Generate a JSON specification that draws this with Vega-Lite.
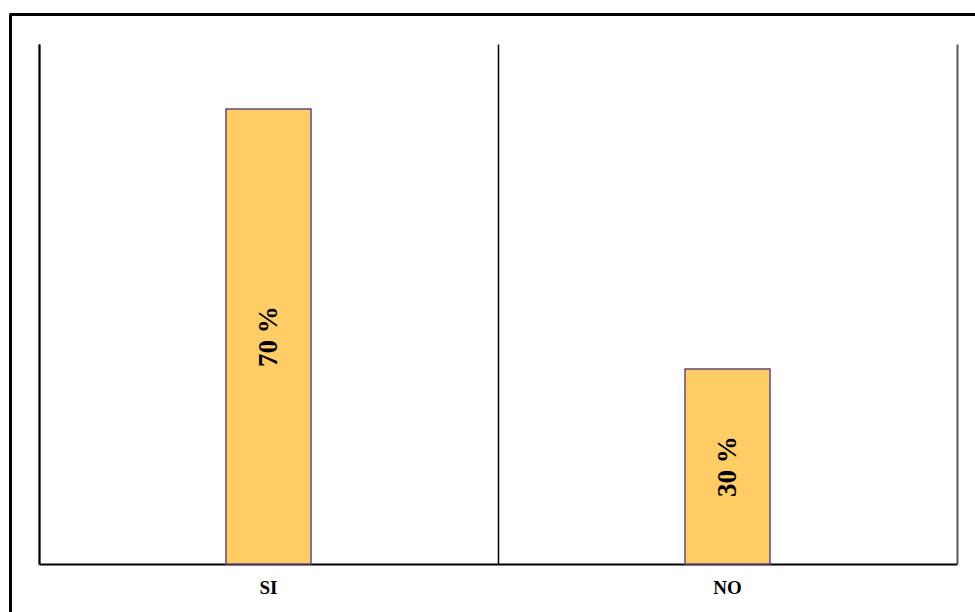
{
  "$schema": "https://vega.github.io/schema/vega-lite/v6.json",
  "width": 918,
  "height": 520,
  "autosize": {"type": "none"},
  "padding": {"left": 39, "top": 44, "right": 18, "bottom": 48},
  "background": "white",
  "config": {"view": {"stroke": null}},
  "data": {
    "values": [
      {"respuesta": "SI", "porcentaje": 70, "etiqueta": "70 %"},
      {"respuesta": "NO", "porcentaje": 30, "etiqueta": "30 %"}
    ]
  },
  "layer": [
    {
      "mark": {"type": "bar", "size": 85, "fill": "#FFCC66", "stroke": "#5F497A", "strokeWidth": 1.5},
      "encoding": {
        "x": {
          "field": "respuesta", "type": "nominal", "sort": null,
          "scale": {"type": "band", "paddingInner": 0, "paddingOuter": 0},
          "axis": {
            "orient": "bottom", "title": null, "labelAngle": 0,
            "domain": true, "domainColor": "#000000", "domainWidth": 2,
            "ticks": false, "grid": false,
            "labelFont": "Liberation Serif", "labelFontWeight": "bold",
            "labelFontSize": 19, "labelColor": "#000000", "labelPadding": 14
          }
        },
        "y": {
          "field": "porcentaje", "type": "quantitative",
          "scale": {"domain": [0, 80], "nice": false},
          "axis": {
            "orient": "left", "title": null, "labels": false, "ticks": false,
            "grid": false, "domain": true, "domainColor": "#000000", "domainWidth": 2
          }
        }
      }
    },
    {
      "transform": [{"calculate": "datum.porcentaje / 2", "as": "centro"}],
      "mark": {
        "type": "text", "angle": 270, "align": "center", "baseline": "middle",
        "font": "Liberation Serif", "fontWeight": "bold", "fontSize": 27, "color": "#000000"
      },
      "encoding": {
        "x": {
          "field": "respuesta", "type": "nominal", "sort": null,
          "scale": {"type": "band", "paddingInner": 0, "paddingOuter": 0},
          "axis": {
            "orient": "top", "title": null, "labels": false, "ticks": false,
            "domain": false, "grid": true, "gridColor": "#000000", "gridWidth": 1.5,
            "bandPosition": 0
          }
        },
        "y": {
          "field": "centro", "type": "quantitative",
          "scale": {"domain": [0, 80], "nice": false},
          "axis": {
            "orient": "right", "title": null, "labels": false, "ticks": false,
            "grid": false, "domain": true, "domainColor": "#595959", "domainWidth": 2
          }
        },
        "text": {"field": "etiqueta"}
      }
    },
    {
      "mark": {"type": "point", "opacity": 0},
      "encoding": {
        "x": {
          "field": "respuesta", "type": "nominal", "sort": null,
          "scale": {"range": [-30, 945]},
          "axis": {
            "orient": "top", "offset": 30, "title": null, "labels": false, "ticks": false,
            "grid": false, "domain": true, "domainColor": "#000000", "domainWidth": 3
          }
        },
        "y": {
          "field": "porcentaje", "type": "quantitative",
          "scale": {"domain": [0, 80], "nice": false, "range": [575, -30]},
          "axis": {
            "orient": "left", "offset": 29, "title": null, "labels": false, "ticks": false,
            "grid": false, "domain": true, "domainColor": "#000000", "domainWidth": 3
          }
        }
      }
    }
  ],
  "resolve": {
    "scale": {"x": "independent", "y": "independent"},
    "axis": {"x": "independent", "y": "independent"}
  }
}
